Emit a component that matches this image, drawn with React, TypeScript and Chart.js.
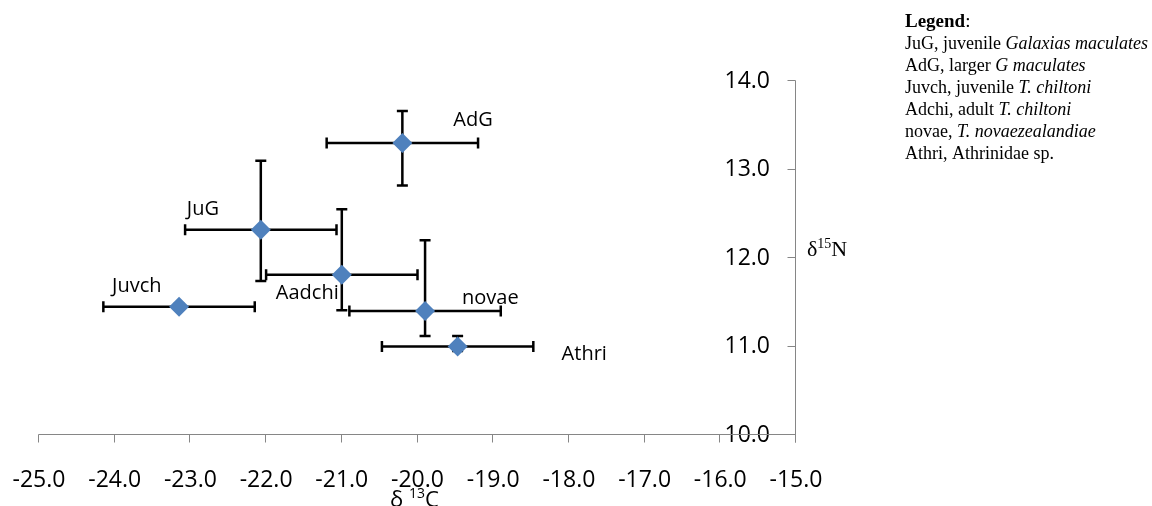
import { useEffect, useRef } from "react";
import { Chart, registerables } from "chart.js";

Chart.register(...registerables);

// ---- data ----
const groupLabels = ["JuG", "AdG", "Juvch", "Aadchi", "novae", "Athri"];
const d13C = [-22.07, -20.2, -23.15, -21.0, -19.9, -19.47];
const d15N = [12.32, 13.3, 11.45, 11.81, 11.4, 11.0];
const d13CErr = [1.0, 1.0, 1.0, 1.0, 1.0, 1.0];
const d15NErrPlus = [0.78, 0.36, 0.03, 0.74, 0.8, 0.12];
const d15NErrMinus = [0.58, 0.48, 0.03, 0.4, 0.28, 0.05];

const xMin = -25;
const xMax = -15;
const yMin = 10;
const yMax = 14;

// label offsets from the point (pixels): [dx, dy to baseline]
const labelOffsets: [number, number][] = [
  [-74, -15],
  [51, -17],
  [-67, -15],
  [-66, 24],
  [37, -7],
  [104, 13],
];

const legendHeading = "Legend";
const legendEntries: [string, string][] = [
  ["JuG, juvenile ", "Galaxias maculates"],
  ["AdG, larger ", "G maculates"],
  ["Juvch, juvenile ", "T. chiltoni"],
  ["Adchi, adult ", "T. chiltoni"],
  ["novae, ", "T. novaezealandiae"],
  ["Athri, Athrinidae sp.", ""],
];

const SANS = "'Open Sans', sans-serif";
const SERIF = "'Liberation Serif', 'DejaVu Serif', serif";
const AXIS_COLOR = "#868686";
const MARKER_COLOR = "#4F81BD";

const axesPlugin = {
  id: "excelAxes",
  beforeDatasetsDraw(chart: any) {
    const { ctx, scales } = chart;
    const x = scales.x;
    const y = scales.y;
    ctx.save();
    ctx.strokeStyle = AXIS_COLOR;
    ctx.lineWidth = 1;
    const y0 = Math.round(y.getPixelForValue(yMin)) - 0.5;
    const x0 = Math.round(x.getPixelForValue(xMax)) - 0.5;
    const yTop = Math.round(y.getPixelForValue(yMax)) - 0.5;
    const xLeft = Math.round(x.getPixelForValue(xMin)) - 0.5;
    ctx.beginPath();
    ctx.moveTo(xLeft, y0);
    ctx.lineTo(x0, y0);
    ctx.moveTo(x0, yTop);
    ctx.lineTo(x0, y0 + 8);
    x.ticks.forEach((t: any) => {
      const px = Math.round(x.getPixelForValue(t.value)) - 0.5;
      ctx.moveTo(px, y0);
      ctx.lineTo(px, y0 + 8);
    });
    y.ticks.forEach((t: any) => {
      const py = Math.round(y.getPixelForValue(t.value)) - 0.5;
      ctx.moveTo(x0 - 8, py);
      ctx.lineTo(x0, py);
    });
    ctx.stroke();

    // error bars
    ctx.strokeStyle = "#000";
    ctx.lineWidth = 2.5;
    const cap = 5.5;
    ctx.beginPath();
    for (let i = 0; i < d13C.length; i++) {
      const px = x.getPixelForValue(d13C[i]);
      const py = y.getPixelForValue(d15N[i]);
      const xl = x.getPixelForValue(d13C[i] - d13CErr[i]);
      const xr = x.getPixelForValue(d13C[i] + d13CErr[i]);
      const yt = y.getPixelForValue(d15N[i] + d15NErrPlus[i]);
      const yb = y.getPixelForValue(d15N[i] - d15NErrMinus[i]);
      ctx.moveTo(xl, py);
      ctx.lineTo(xr, py);
      ctx.moveTo(xl, py - cap);
      ctx.lineTo(xl, py + cap);
      ctx.moveTo(xr, py - cap);
      ctx.lineTo(xr, py + cap);
      ctx.moveTo(px, yt);
      ctx.lineTo(px, yb);
      ctx.moveTo(px - cap, yt);
      ctx.lineTo(px + cap, yt);
      ctx.moveTo(px - cap, yb);
      ctx.lineTo(px + cap, yb);
    }
    ctx.stroke();
    ctx.restore();
  },
  afterDatasetsDraw(chart: any) {
    const { ctx, scales } = chart;
    const x = scales.x;
    const y = scales.y;
    ctx.save();
    ctx.fillStyle = "#000";
    ctx.font = `20px ${SANS}`;
    ctx.textAlign = "left";
    ctx.textBaseline = "alphabetic";
    for (let i = 0; i < groupLabels.length; i++) {
      const px = x.getPixelForValue(d13C[i]);
      const py = y.getPixelForValue(d15N[i]);
      ctx.fillText(groupLabels[i], px + labelOffsets[i][0], py + labelOffsets[i][1]);
    }
    ctx.restore();
  },
  afterDraw(chart: any) {
    const { ctx, chartArea } = chart;
    ctx.save();
    ctx.fillStyle = "#000";
    ctx.textAlign = "left";
    ctx.textBaseline = "alphabetic";

    // x title: δ ¹³C
    const big = `22px ${SANS}`;
    const small = `14px ${SANS}`;
    ctx.font = big;
    const wD = ctx.measureText("δ ").width;
    const wC = ctx.measureText("C").width;
    ctx.font = small;
    const w13 = ctx.measureText("13").width;
    const total = wD + w13 + wC;
    let tx = (chartArea.left + chartArea.right) / 2 - 3 - total / 2;
    const tb = 507;
    ctx.font = big;
    ctx.fillText("δ ", tx, tb);
    tx += wD;
    ctx.font = small;
    ctx.fillText("13", tx, tb - 9);
    tx += w13;
    ctx.font = big;
    ctx.fillText("C", tx, tb);

    // y title: δ¹⁵N
    const sBig = `22px ${SERIF}`;
    const sSmall = `14px ${SERIF}`;
    let yx = chartArea.right + 11;
    const yb = 256;
    ctx.font = sBig;
    ctx.fillText("δ", yx, yb);
    yx += ctx.measureText("δ").width;
    ctx.font = sSmall;
    ctx.fillText("15", yx, yb - 8);
    yx += ctx.measureText("15").width;
    ctx.font = sBig;
    ctx.fillText("N", yx, yb);

    // legend box text
    const lx = 905;
    let lb = 27;
    ctx.font = `bold 19px ${SERIF}`;
    ctx.fillText(legendHeading, lx, lb);
    const wh = ctx.measureText(legendHeading).width;
    ctx.font = `19px ${SERIF}`;
    ctx.fillText(":", lx + wh, lb);
    for (const [plain, ital] of legendEntries) {
      lb += 22;
      ctx.font = `18px ${SERIF}`;
      ctx.fillText(plain, lx, lb);
      const wp = ctx.measureText(plain).width;
      if (ital) {
        ctx.font = `italic 18px ${SERIF}`;
        ctx.fillText(ital, lx + wp, lb);
      }
    }
    ctx.restore();
  },
};

export default function App() {
  const canvasRef = useRef<HTMLCanvasElement | null>(null);

  useEffect(() => {
    if (!canvasRef.current) return;
    const chart = new Chart(canvasRef.current, {
      type: "scatter",
      data: {
        datasets: [
          {
            label: "δ15N vs δ13C",
            data: d13C.map((v, i) => ({ x: v, y: d15N[i] })),
            pointStyle: "rectRot",
            pointRadius: 10,
            pointHoverRadius: 10,
            backgroundColor: MARKER_COLOR,
            borderColor: MARKER_COLOR,
            borderWidth: 0,
          },
        ],
      },
      options: {
        animation: false,
        responsive: true,
        maintainAspectRatio: false,
        events: [],
        layout: { padding: { left: 39, top: 81, right: 0, bottom: 0 } },
        plugins: {
          legend: { display: false },
          tooltip: { enabled: false },
        },
        scales: {
          x: {
            type: "linear",
            position: "bottom",
            min: xMin,
            max: xMax,
            ticks: {
              stepSize: 1,
              autoSkip: false,
              maxRotation: 0,
              padding: 32,
              color: "#000",
              font: { family: SANS, size: 23 },
              callback: (v: any) => Number(v).toFixed(1),
            },
            grid: { display: false, drawTicks: false },
            border: { display: false },
            afterFit: (s: any) => {
              s.height = 71;
              s.paddingLeft = 0;
              s.paddingRight = 0;
            },
          },
          y: {
            type: "linear",
            position: "right",
            min: yMin,
            max: yMax,
            ticks: {
              stepSize: 1,
              mirror: true,
              padding: -26,
              color: "#000",
              font: { family: SANS, size: 23 },
              callback: (v: any) => Number(v).toFixed(1),
            },
            grid: { display: false, drawTicks: false },
            border: { display: false },
            afterFit: (s: any) => {
              s.width = 356;
              s.paddingTop = 0;
              s.paddingBottom = 0;
            },
          },
        },
      },
      plugins: [axesPlugin],
    });
    return () => chart.destroy();
  }, []);

  return (
    <div
      style={{
        position: "fixed",
        left: 0,
        top: 0,
        width: "1152px",
        height: "506px",
        background: "#fff",
      }}
    >
      <canvas ref={canvasRef} style={{ display: "block" }} />
    </div>
  );
}
